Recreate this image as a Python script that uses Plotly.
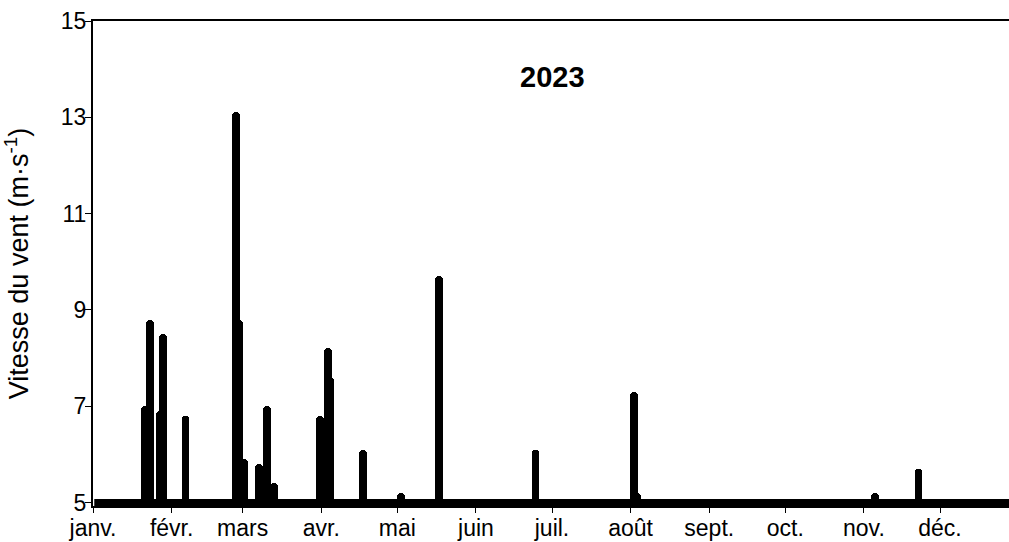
import numpy as np
import pandas as pd
import plotly.graph_objects as go

# ---- data -------------------------------------------------------------
year = 2023
baseline = 5.0
# days on which the wind speed rose above the 5 m/s floor of the chart
peak_dates = [
    "2023-01-21", "2023-01-23", "2023-01-27", "2023-01-28", "2023-02-06",
    "2023-02-26", "2023-02-27", "2023-03-01", "2023-03-07", "2023-03-10",
    "2023-03-13", "2023-03-31", "2023-04-03", "2023-04-04", "2023-04-17",
    "2023-05-02", "2023-05-17", "2023-06-24", "2023-08-02", "2023-08-03",
    "2023-11-05", "2023-11-22",
]
peak_values = [
    7.0, 8.8, 6.9, 8.5, 6.8,
    13.1, 8.8, 5.9, 5.8, 7.0,
    5.4, 6.8, 8.2, 7.6, 6.1,
    5.2, 9.7, 6.1, 7.3, 5.2,
    5.2, 5.7,
]
month_labels = ["janv.", "févr.", "mars", "avr.", "mai", "juin",
                "juil.", "août", "sept.", "oct.", "nov.", "déc."]
y_ticks = [5, 7, 9, 11, 13, 15]

# ---- build daily series -----------------------------------------------
days = pd.date_range(f"{year}-01-01", f"{year}-12-31", freq="D")
series = pd.Series(baseline, index=days)
for d, v in zip(peak_dates, peak_values):
    series[pd.Timestamp(d)] = v

floor_part = np.minimum(series.values, baseline)          # the 5 m/s band
above = series[series > baseline]                          # exceedances

# month ticks placed between day slots (Excel "between tick marks")
month_starts = pd.date_range(f"{year}-01-01", periods=12, freq="MS")
tick_pos = [m - pd.Timedelta(hours=12) for m in month_starts]

day_ms = 86400000
fig = go.Figure()
fig.add_trace(go.Bar(
    x=above.index, y=above.values - baseline, base=baseline,
    width=3.1 * day_ms,
    marker=dict(color="black", line=dict(width=0), cornerradius=4),
    showlegend=False, hovertemplate="%{x|%d %b}: %{customdata} m/s<extra></extra>",
    customdata=above.values,
))
fig.add_trace(go.Scatter(
    x=series.index, y=floor_part, mode="lines",
    line=dict(color="black", width=7),
    showlegend=False, hoverinfo="skip",
))

fig.update_layout(
    width=1009, height=542,
    margin=dict(l=93, r=0, t=21, b=36),
    paper_bgcolor="white", plot_bgcolor="white",
    barmode="overlay", bargap=0,
    font=dict(family="Liberation Sans, Arial, sans-serif", color="black", size=23),
    annotations=[dict(text="<b>2023</b>", x=0.502, y=0.885, xref="paper", yref="paper",
                      xanchor="center", yanchor="middle", showarrow=False,
                      font=dict(size=29, color="black"))],
)
fig.update_xaxes(
    range=[pd.Timestamp(f"{year - 1}-12-31 12:00"), pd.Timestamp(f"{year}-12-27 17:00")],
    tickvals=tick_pos, ticktext=month_labels,
    ticks="outside", ticklen=5, tickwidth=1, tickcolor="black",
    showline=True, linecolor="black", linewidth=2, mirror=True,
    showgrid=False, zeroline=False, automargin=False,
    tickfont=dict(size=23), ticklabelstandoff=-5,
)
fig.update_yaxes(
    range=[4.927, 15],
    tickvals=y_ticks,
    ticks="outside", ticklen=6, tickwidth=1, tickcolor="black",
    showline=True, linecolor="black", linewidth=2,
    showgrid=False, zeroline=False, automargin=False,
    tickfont=dict(size=23), ticklabelstandoff=-6,
    title=dict(text="Vitesse du vent (m·s<sup>-1</sup>)", font=dict(size=27), standoff=24),
)

fig.write_html(
    "out.html",
    config={"displayModeBar": False},
    post_script="document.body.style.margin='0';document.body.style.overflow='hidden';",
)
